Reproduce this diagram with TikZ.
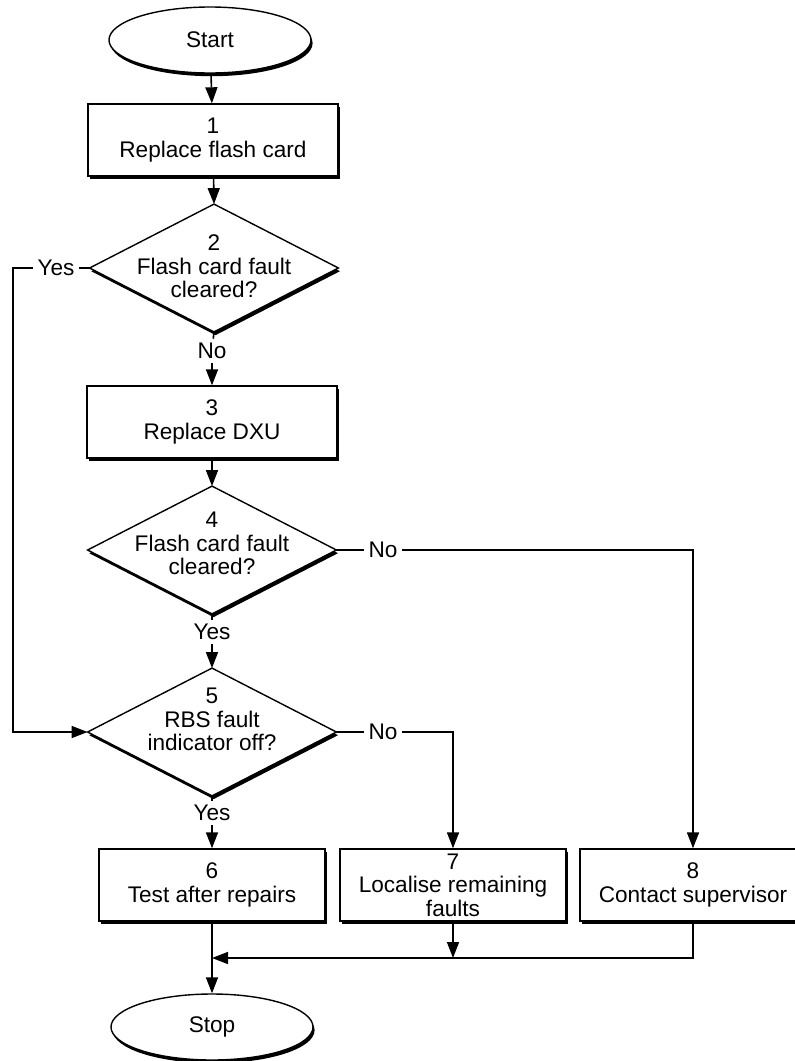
\documentclass[tikz,border=0pt]{standalone}
\usepackage{fontspec}
\setmainfont{Liberation Sans}
\usetikzlibrary{arrows.meta,shapes.geometric,shadows,backgrounds}

\tikzset{
  shadowed/.style={fill=white, draw, line width=0.7pt,
    drop shadow={shadow xshift=0.8pt, shadow yshift=-1.6pt, fill=black, opacity=1}},
  terminal/.style={ellipse, shadowed, minimum width=101pt, minimum height=33pt, inner sep=0pt},
  process/.style={rectangle, shadowed, minimum width=#1, minimum height=36pt, inner sep=0pt, align=center},
  process/.default=113pt,
  decision/.style 2 args={rectangle, minimum width=124pt, minimum height=63.5pt, inner sep=0pt,
    label={[align=center, yshift=#1]center:{#2}}},
  answer/.style={inner sep=2pt},
  link/.style={line width=0.8pt},
  flow/.style={link, -{Triangle[length=8pt,width=6pt]}},
}

\begin{document}
\begin{tikzpicture}[x=0.5pt, y=-0.5pt, font=\fontsize{11.3}{11.8}\selectfont]
  \useasboundingbox (0,0) rectangle (795,1061);

  \node[terminal] (start) at (210,40) {Start};
  \node[process=125pt] (s1) at (213,140) {1\\Replace flash card};
  \node[decision={0.8pt}{2\\Flash card fault\\cleared?}] (s2) at (214,268) {};
  \node[process=125pt] (s3) at (212,422) {3\\Replace DXU};
  \node[decision={3.2pt}{4\\Flash card fault\\cleared?}] (s4) at (212,550) {};
  \node[decision={6.2pt}{5\\RBS fault\\indicator off?}] (s5) at (212,732) {};
  \node[process] (s6) at (212,885) {6\\Test after repairs};
  \node[process] (s7) at (453,885) {7\\Localise remaining\\faults};
  \node[process] (s8) at (693,885) {8\\Contact supervisor};
  \node[terminal] (stop) at (212,1027) {Stop};

  % diamonds go behind the text
  \begin{scope}[on background layer]
    \foreach \n in {s2,s4,s5}{
      \fill[transform canvas={xshift=0.8pt, yshift=-1.6pt}] (\n.north) -- (\n.east) -- (\n.south) -- (\n.west) -- cycle;
      \filldraw[fill=white, line width=0.7pt] (\n.north) -- (\n.east) -- (\n.south) -- (\n.west) -- cycle;
    }
  \end{scope}

  \node[answer] (y2) at (56,268) {Yes};
  \node[answer] (n2) at (212,351) {No};
  \node[answer] (n4) at (383,550) {No};
  \node[answer] (y4) at (212,632) {Yes};
  \node[answer] (n5) at (383,732) {No};
  \node[answer] (y5) at (212,813) {Yes};
  \coordinate (lft) at (13,732);
  \coordinate (mrg) at (212,958);

  \draw[flow] (start) -- (s1);
  \draw[flow] (s1) -- (s2.north);
  \draw[link] (s2.west) -- (y2.east);
  \draw[flow] (y2.west) -| (lft) -- (s5.west);
  \draw[link] (s2.south) -- (n2);
  \draw[flow] (n2) -- (s3);
  \draw[flow] (s3) -- (s4.north);
  \draw[link] (s4.east) -- (n4.west);
  \draw[flow] (n4.east) -| (s8.north);
  \draw[link] (s4.south) -- (y4);
  \draw[flow] (y4) -- (s5.north);
  \draw[link] (s5.east) -- (n5.west);
  \draw[flow] (n5.east) -| (s7.north);
  \draw[link] (s5.south) -- (y5);
  \draw[flow] (y5) -- (s6);
  \draw[flow] (s6) -- (stop);
  \draw[flow] (s7) -- (s7 |- mrg);
  \draw[flow] (s8) |- (mrg);
\end{tikzpicture}
\end{document}
